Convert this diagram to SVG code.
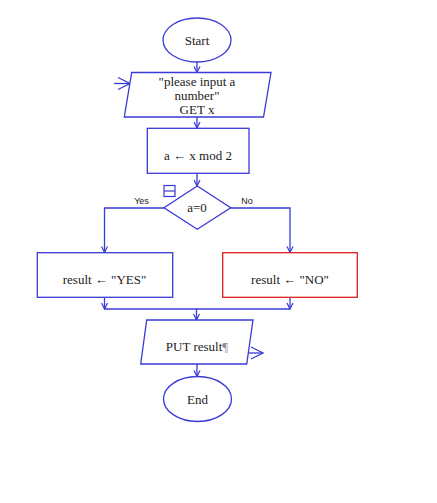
<svg xmlns="http://www.w3.org/2000/svg" width="437" height="503" viewBox="0 0 437 503">
<style>
.s{fill:#fff;stroke:#3a3ad8;stroke-width:1.3}
.r{fill:#fff;stroke:#e02020;stroke-width:1.3}
.t{font-family:"Liberation Serif",serif;font-size:13px;fill:#222;text-anchor:middle}
.l{font-family:"Liberation Sans",sans-serif;font-size:9px;fill:#222;text-anchor:middle}
.c{fill:none;stroke:#3a3ad8;stroke-width:1.3}
</style>
<defs>
<marker id="a" viewBox="0 0 8 8" refX="7" refY="4" markerWidth="8" markerHeight="8" markerUnits="userSpaceOnUse" orient="auto">
<path d="M1,1 L7,4 L1,7" fill="none" stroke="#3a3ad8" stroke-width="1.2"/>
</marker>
<marker id="b" viewBox="0 0 14 14" refX="13" refY="7" markerWidth="14" markerHeight="14" markerUnits="userSpaceOnUse" orient="auto">
<path d="M1,1 L13,7 L1,13" fill="none" stroke="#3a3ad8" stroke-width="1.2"/>
</marker>
</defs>
<g id="connectors">
<line class="c" x1="197" y1="62" x2="197" y2="72.5" marker-end="url(#a)"/>
<line class="c" x1="114" y1="83.5" x2="130" y2="83.5" marker-end="url(#b)"/>
<line class="c" x1="197" y1="117" x2="197" y2="128" marker-end="url(#a)"/>
<line class="c" x1="197" y1="173" x2="197" y2="186" marker-end="url(#a)"/>
<polyline class="c" points="164,208 104.5,208 104.5,252.5" marker-end="url(#a)"/>
<polyline class="c" points="230.5,208 290,208 290,252.5" marker-end="url(#a)"/>
<line class="c" x1="104.5" y1="297.5" x2="104.5" y2="309" marker-end="url(#a)"/>
<line class="c" x1="290" y1="297.5" x2="290" y2="309" marker-end="url(#a)"/>
<line class="c" x1="104.5" y1="309" x2="290" y2="309"/>
<line class="c" x1="196.5" y1="309" x2="196.5" y2="320" marker-end="url(#a)"/>
<line class="c" x1="197" y1="364" x2="197" y2="376.5" marker-end="url(#a)"/>
<line class="c" x1="247" y1="353" x2="263" y2="353" marker-end="url(#b)"/>
<text class="l" x="141.5" y="204">Yes</text>
<text class="l" x="247" y="204">No</text>
</g>
<g id="start">
<ellipse class="s" cx="197" cy="40" rx="34" ry="22"/>
<text class="t" x="197" y="44.5">Start</text>
</g>
<g id="input">
<polygon class="s" points="131.7,72.5 271,72.5 263.5,117 124.3,117"/>
<text class="t" x="197" y="86">"please input a</text>
<text class="t" x="197" y="100">number"</text>
<text class="t" x="197" y="114">GET x</text>
</g>
<g id="assign">
<rect class="s" x="147.3" y="128.3" width="101.7" height="45"/>
<text class="t" x="198" y="159.5">a ← x mod 2</text>
</g>
<g id="decision">
<polygon class="s" points="197.3,186 230.7,207.7 197.3,229.3 164,207.7"/>
<text class="t" x="197" y="212">a=0</text>
<rect x="164" y="185.5" width="11" height="11" fill="none" stroke="#3a3ad8" stroke-width="1.2"/>
<line x1="164" y1="191" x2="175" y2="191" stroke="#3a3ad8" stroke-width="1.2"/>
</g>
<g id="yes">
<rect class="s" x="37.3" y="252.7" width="135.4" height="44.6"/>
<text class="t" x="104.5" y="284">result ← "YES"</text>
</g>
<g id="no">
<rect class="r" x="222.7" y="252.7" width="134.6" height="44.6"/>
<text class="t" x="290" y="284">result ← "NO"</text>
</g>
<g id="output">
<polygon class="s" points="146.7,320 253,320 246.7,364 140.7,364"/>
<text class="t" x="197" y="351">PUT result<tspan fill="#888">¶</tspan></text>
</g>
<g id="end">
<ellipse class="s" cx="197.5" cy="399" rx="34" ry="22.5"/>
<text class="t" x="197.5" y="403.5">End</text>
</g>
</svg>
